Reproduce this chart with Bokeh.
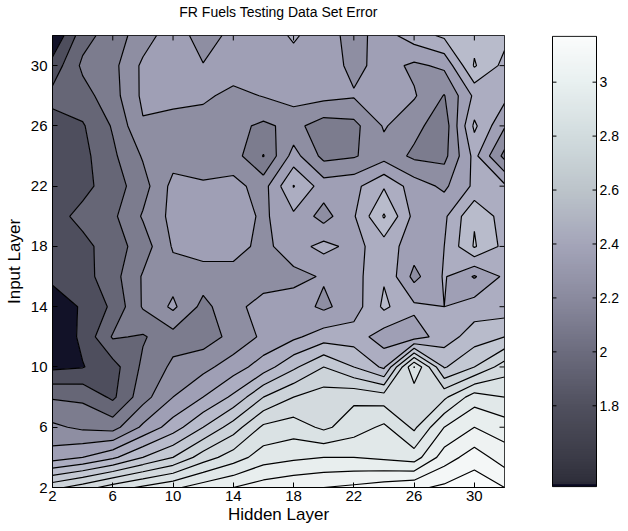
import numpy as np
from bokeh.plotting import figure
from bokeh.layouts import row
from bokeh.models import Range1d, FixedTicker
from bokeh.core.properties import value
from bokeh.embed import file_html
from bokeh.resources import INLINE

# ---------------- data ----------------
hidden_layer = [2, 4, 6, 8, 10, 12, 14, 16, 18, 20, 22, 24, 26, 28, 30, 32]
input_layer = [2, 4, 6, 8, 10, 12, 14, 16, 18, 20, 22, 24, 26, 28, 30, 32]

# testing error, one list per input-layer size, values along hidden layer 2..32
err_in32 = [1.50, 1.76, 1.85, 1.95, 2.06, 1.95, 2.03, 2.06, 2.11, 2.06, 1.95, 2.06, 2.15, 2.22, 2.27, 2.23]
err_in30 = [1.64, 1.82, 1.87, 2.02, 2.07, 2.005, 2.06, 2.07, 2.07, 2.06, 1.97, 2.04, 1.98, 2.02, 2.31, 2.17]
err_in28 = [1.73, 1.76, 1.86, 2.02, 2.04, 2.02, 1.97, 2.005, 2.04, 2.03, 2.01, 2.05, 2.01, 1.895, 2.12, 2.13]
err_in26 = [1.66, 1.69, 1.81, 1.99, 1.95, 1.95, 1.93, 1.88, 1.93, 1.85, 1.87, 2.01, 1.93, 1.84, 2.22, 2.01]
err_in24 = [1.64, 1.67, 1.78, 1.91, 1.96, 1.96, 1.945, 1.795, 2.04, 1.87, 1.89, 1.96, 1.88, 1.87, 2.13, 1.87]
err_in22 = [1.64, 1.67, 1.75, 1.86, 2.03, 2.01, 2.03, 1.96, 2.205, 2.05, 2.07, 2.19, 2.05, 1.98, 2.12, 2.12]
err_in20 = [1.66, 1.73, 1.78, 1.91, 2.03, 2.07, 2.06, 1.98, 2.08, 1.96, 2.09, 2.31, 2.07, 2.08, 2.29, 2.15]
err_in18 = [1.65, 1.67, 1.75, 1.85, 2.01, 2.05, 2.04, 1.97, 2.06, 2.13, 2.07, 2.15, 2.05, 2.10, 2.31, 2.17]
err_in16 = [1.62, 1.66, 1.76, 1.91, 1.96, 1.95, 1.96, 1.95, 1.97, 2.01, 2.06, 2.19, 1.97, 2.11, 1.99, 2.12]
err_in14 = [1.55, 1.61, 1.72, 1.91, 2.02, 1.87, 1.97, 2.04, 2.05, 1.98, 2.05, 2.22, 2.12, 2.10, 2.15, 2.14]
err_in12 = [1.52, 1.62, 1.81, 1.79, 1.86, 1.85, 1.93, 2.02, 2.08, 2.15, 2.15, 2.05, 2.05, 2.15, 2.25, 2.30]
err_in10 = [1.58, 1.595, 1.66, 1.82, 1.92, 1.97, 2.05, 2.15, 2.28, 2.40, 2.30, 2.18, 2.705, 2.29, 2.40, 2.55]
err_in8 = [1.79, 1.78, 1.68, 1.86, 2.00, 2.10, 2.22, 2.40, 2.50, 2.55, 2.58, 2.55, 2.514, 2.58, 2.75, 2.70]
err_in6 = [1.92, 1.88, 1.86, 2.02, 2.15, 2.30, 2.45, 2.62, 2.65, 2.58, 2.65, 2.72, 2.58, 2.80, 2.90, 2.85]
err_in4 = [2.05, 2.10, 2.18, 2.30, 2.40, 2.55, 2.65, 2.75, 2.78, 2.80, 2.80, 2.78, 2.75, 2.95, 3.05, 2.95]
err_in2 = [2.47, 2.55, 2.65, 2.72, 2.78, 2.85, 2.90, 2.95, 2.98, 3.00, 3.02, 3.05, 3.08, 3.12, 3.17, 3.10]

contour_levels = [1.6, 1.7, 1.8, 1.9, 2.0, 2.1, 2.2, 2.3, 2.4, 2.5, 2.6, 2.7, 2.8, 2.9, 3.0, 3.1]
axis_ticks = [2, 6, 10, 14, 18, 22, 26, 30]
cbar_ticks = [1.8, 2.0, 2.2, 2.4, 2.6, 2.8, 3.0]
cbar_labels = ["1.8", "2", "2.2", "2.4", "2.6", "2.8", "3"]

# shading anchors (value -> rgb) for the filled bands and for the colour bar
band_shade_vals = [1.48, 1.6, 1.7, 1.8, 1.9, 2.0, 2.1, 2.2, 2.3, 2.4, 2.6, 2.8, 3.0, 3.17]
band_shade_rgb = [(6, 6, 30), (78, 78, 93), (102, 102, 118), (124, 124, 142), (142, 142, 162),
                  (159, 159, 181), (172, 173, 193), (184, 187, 203), (195, 200, 211),
                  (204, 211, 217), (218, 226, 228), (232, 238, 238), (244, 247, 247), (252, 253, 253)]
bar_shade_vals = [1.48, 1.505, 1.515, 1.6, 1.8, 2.0, 2.2, 2.4, 2.6, 2.8, 3.0, 3.17]
bar_shade_rgb = [(2, 2, 26), (8, 8, 34), (46, 46, 58), (58, 58, 70), (80, 80, 94), (108, 108, 126),
                 (138, 138, 158), (164, 165, 185), (188, 196, 202), (210, 220, 222),
                 (232, 240, 240), (250, 252, 252)]


def shade(v, vals, rgbs):
    arr = np.array(rgbs, dtype=float)
    c = [int(round(np.interp(v, vals, arr[:, k]))) for k in range(3)]
    return "#%02x%02x%02x" % tuple(c)


z = np.array([err_in2, err_in4, err_in6, err_in8, err_in10, err_in12, err_in14, err_in16,
              err_in18, err_in20, err_in22, err_in24, err_in26, err_in28, err_in30, err_in32])
zmin = float(z.min())
zmax = float(z.max())
levels = [zmin] + contour_levels + [zmax + 0.01]
fills = [shade(lv, band_shade_vals, band_shade_rgb) for lv in levels[:-1]]

FONT = "Liberation Sans"
FIG_H = 526

# ---------------- main contour plot ----------------
p = figure(width=510, height=FIG_H, x_range=Range1d(2, 32), y_range=Range1d(2, 32),
           toolbar_location=None, output_backend="svg",
           min_border_left=52, min_border_right=6, min_border_top=35, min_border_bottom=39,
           title="FR Fuels Testing Data Set Error\n")
p.title.align = "center"
p.title.text_font = FONT
p.title.text_font_size = "14px"
p.title.text_font_style = "normal"
p.title.text_color = "black"
p.title.standoff = 0

p.contour(x=hidden_layer, y=input_layer, z=z, levels=levels,
          fill_color=fills, line_color="black", line_width=1.2)

# box ticks on the top and right edges (MATLAB style), pointing inwards
tick_len = 0.33
p.segment(x0=axis_ticks, y0=[32] * len(axis_ticks), x1=axis_ticks,
          y1=[32 - tick_len] * len(axis_ticks), line_color="black", line_width=1)
p.segment(x0=[32] * len(axis_ticks), y0=axis_ticks, x1=[32 - tick_len] * len(axis_ticks),
          y1=axis_ticks, line_color="black", line_width=1)

p.xgrid.visible = False
p.ygrid.visible = False
p.outline_line_color = "black"
p.outline_line_width = 1

for ax in (p.xaxis[0], p.yaxis[0]):
    ax.ticker = FixedTicker(ticks=axis_ticks)
    ax.major_tick_in = 5
    ax.major_tick_out = 0
    ax.minor_tick_line_color = None
    ax.axis_line_color = "black"
    ax.major_tick_line_color = "black"
    ax.major_label_text_font = FONT
    ax.major_label_text_font_size = "15px"
    ax.major_label_text_color = "black"
    ax.axis_label_text_font = FONT
    ax.axis_label_text_font_size = "17px"
    ax.axis_label_text_font_style = "normal"
    ax.axis_label_text_color = "black"
p.xaxis.axis_label = "Hidden Layer"
p.yaxis.axis_label = "Input Layer"
p.xaxis.major_label_standoff = 3
p.xaxis.axis_label_standoff = 1
p.yaxis.major_label_standoff = 5
p.yaxis.axis_label_standoff = 4

# ---------------- colour bar (own small figure, labels drawn as text) ----------------
CB_W = 112
BAR_LEFT_PX = 42
BAR_W_PX = 44
x_lo = -BAR_LEFT_PX / BAR_W_PX
x_hi = 1 + (CB_W - BAR_LEFT_PX - BAR_W_PX) / BAR_W_PX
pad = 0.003
cb = figure(width=CB_W, height=FIG_H, x_range=Range1d(x_lo, x_hi),
            y_range=Range1d(zmin - pad, zmax + pad),
            toolbar_location=None, output_backend="svg",
            x_axis_location=None, y_axis_location=None,
            min_border_left=0, min_border_right=0, min_border_top=34, min_border_bottom=36)
cb.outline_line_color = None
cb.xgrid.visible = False
cb.ygrid.visible = False

bar_edges = np.linspace(zmin, zmax, 181)
step = bar_edges[1] - bar_edges[0]
bar_mid = 0.5 * (bar_edges[:-1] + bar_edges[1:])
cb.quad(left=0, right=1, bottom=bar_edges[:-1],
        top=np.minimum(bar_edges[1:] + 0.6 * step, zmax),
        fill_color=[shade(v, bar_shade_vals, bar_shade_rgb) for v in bar_mid],
        line_color=None)
cb.quad(left=0, right=1, bottom=zmin, top=zmax, fill_color=None,
        line_color="black", line_width=1)
tick_w = 0.09
cb.segment(x0=[0] * len(cbar_ticks), y0=cbar_ticks, x1=[tick_w] * len(cbar_ticks),
           y1=cbar_ticks, line_color="black", line_width=1)
cb.segment(x0=[1] * len(cbar_ticks), y0=cbar_ticks, x1=[1 - tick_w] * len(cbar_ticks),
           y1=cbar_ticks, line_color="black", line_width=1)
cb.text(x=[1 + 3 / BAR_W_PX] * len(cbar_ticks), y=cbar_ticks, text=cbar_labels,
        text_font=value(FONT), text_font_size="14px", text_color="black",
        text_align="left", text_baseline="middle")

layout = row(p, cb)
open("out.html", "w").write(file_html(layout, INLINE))
